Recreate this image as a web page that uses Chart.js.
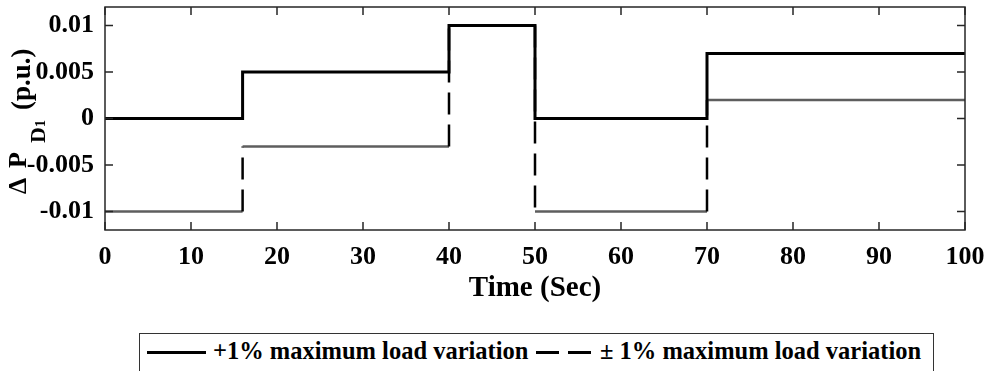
<!DOCTYPE html>
<html>
<head>
<meta charset="utf-8">
<script src="https://cdn.jsdelivr.net/npm/chart.js@4/dist/chart.umd.min.js"></script>
<style>
html,body{margin:0;padding:0;background:#fff;}
#wrap{position:relative;width:988px;height:371px;overflow:hidden;}
#c{position:absolute;left:0;top:0;}
#legend{position:absolute;left:139px;top:333px;width:793px;height:60px;border:1px solid #333;background:#fff;
  font-family:"Liberation Serif","Times New Roman",serif;font-weight:bold;font-size:24.5px;color:#000;line-height:24px;white-space:nowrap;}
#legend .t{position:absolute;top:5px;}
#legend .s{position:absolute;top:17px;height:3px;background:#000;}
</style>
</head>
<body>
<div id="wrap">
<canvas id="c" width="988" height="371"></canvas>
<div id="legend">
  <span class="s" style="left:7px;width:59px;"></span>
  <span class="t" id="lg1" style="left:73px;"></span>
  <span class="s" style="left:396px;width:23px;"></span>
  <span class="s" style="left:428px;width:23px;"></span>
  <span class="t" id="lg2" style="left:460px;"></span>
</div>
</div>
<script>
// ---- data ----
const stepTimes = [0, 16, 40, 50, 70, 100];
const plusOneValues = [0, 0.005, 0.01, 0, 0.007];
const plusMinusValues = [-0.01, -0.003, 0.01, -0.01, 0.002];
const seriesNames = ['+1% maximum load variation', '\u00B1 1% maximum load variation'];
const xTicks = [0, 10, 20, 30, 40, 50, 60, 70, 80, 90, 100];
const xTickLabels = ['0','10','20','30','40','50','60','70','80','90','100'];
const yTicks = [-0.01, -0.005, 0, 0.005, 0.01];
const yTickLabels = ['-0.01', '-0.005', '0', '0.005', '0.01'];
const xTitle = 'Time (Sec)';

document.getElementById('lg1').textContent = seriesNames[0];
document.getElementById('lg2').textContent = seriesNames[1];

const F = '"Liberation Serif","Times New Roman",serif';

function stepPoints(times, vals) {
  const pts = [];
  for (let i = 0; i < vals.length; i++) {
    pts.push({x: times[i], y: vals[i]});
    pts.push({x: times[i + 1], y: vals[i]});
  }
  return pts;
}
const isVert = c => c.p0.parsed.x === c.p1.parsed.x;

const frame = {
  id: 'frame',
  afterDatasetsDraw(chart) {
    const {ctx, chartArea: a, scales: {x, y}} = chart;
    ctx.save();
    ctx.strokeStyle = '#262626';
    ctx.lineWidth = 1.5;
    ctx.strokeRect(a.left, a.top, a.right - a.left, a.bottom - a.top);
    ctx.beginPath();
    xTicks.forEach(v => {
      const p = x.getPixelForValue(v);
      ctx.moveTo(p, a.bottom); ctx.lineTo(p, a.bottom - 8);
      ctx.moveTo(p, a.top); ctx.lineTo(p, a.top + 8);
    });
    yTicks.forEach(v => {
      const p = y.getPixelForValue(v);
      ctx.moveTo(a.left, p); ctx.lineTo(a.left + 8, p);
      ctx.moveTo(a.right, p); ctx.lineTo(a.right - 8, p);
    });
    ctx.stroke();
    ctx.restore();
  },
  afterDraw(chart) {
    const ctx = chart.ctx;
    ctx.save();
    ctx.translate(26, 194);
    ctx.rotate(-Math.PI / 2);
    ctx.fillStyle = '#000';
    ctx.textBaseline = 'alphabetic';
    ctx.textAlign = 'left';
    ctx.font = 'bold 26px ' + F;
    ctx.fillText('\u0394', 0, 0);
    ctx.fillText('P', 26, 0);
    ctx.font = 'bold 22px ' + F;
    ctx.fillText('D', 51, 19);
    ctx.font = 'bold 14px ' + F;
    ctx.fillText('1', 67, 19);
    ctx.font = 'bold 27px ' + F;
    ctx.fillText('(p.u.)', 84, 4);
    ctx.restore();
  }
};

new Chart(document.getElementById('c'), {
  type: 'line',
  data: {
    datasets: [
      {
        label: seriesNames[0],
        data: stepPoints(stepTimes, plusOneValues),
        borderColor: '#000',
        borderWidth: 3,
        pointRadius: 0,
        fill: false,
        tension: 0
      },
      {
        label: seriesNames[1],
        data: stepPoints(stepTimes, plusMinusValues),
        borderColor: '#5e5e5e',
        borderWidth: 2.5,
        borderDash: [22, 10],
        pointRadius: 0,
        fill: false,
        tension: 0,
        segment: {
          borderColor: c => isVert(c) ? '#000' : '#5e5e5e',
          borderDash: c => isVert(c) ? [22, 10] : []
        }
      }
    ]
  },
  options: {
    responsive: false,
    animation: false,
    events: [],
    layout: {padding: {left: 0, top: 7, right: 23, bottom: 65}},
    plugins: {legend: {display: false}, tooltip: {enabled: false}},
    scales: {
      x: {
        type: 'linear', min: 0, max: 100,
        afterBuildTicks: s => { s.ticks = xTicks.map(v => ({value: v})); },
        afterFit: s => { s.height = 76; s.paddingLeft = 0; s.paddingRight = 0; },
        ticks: {
          font: {family: F, size: 26, weight: 'bold'}, color: '#000', padding: 12,
          maxRotation: 0, autoSkip: false,
          callback: (v, i) => xTickLabels[i]
        },
        grid: {display: false, drawTicks: false},
        border: {display: false},
        title: {display: true, text: xTitle, color: '#000',
          font: {family: F, size: 29, weight: 'bold'}, padding: {top: 0, bottom: 0}}
      },
      y: {
        type: 'linear', min: -0.012, max: 0.012,
        afterBuildTicks: s => { s.ticks = yTicks.map(v => ({value: v})); },
        afterFit: s => { s.width = 105; s.paddingTop = 0; s.paddingBottom = 0; },
        ticks: {
          font: {family: F, size: 26, weight: 'bold'}, color: '#000', padding: 11,
          autoSkip: false,
          callback: (v, i) => yTickLabels[i]
        },
        grid: {display: false, drawTicks: false},
        border: {display: false}
      }
    }
  },
  plugins: [frame]
});
</script>
</body>
</html>
